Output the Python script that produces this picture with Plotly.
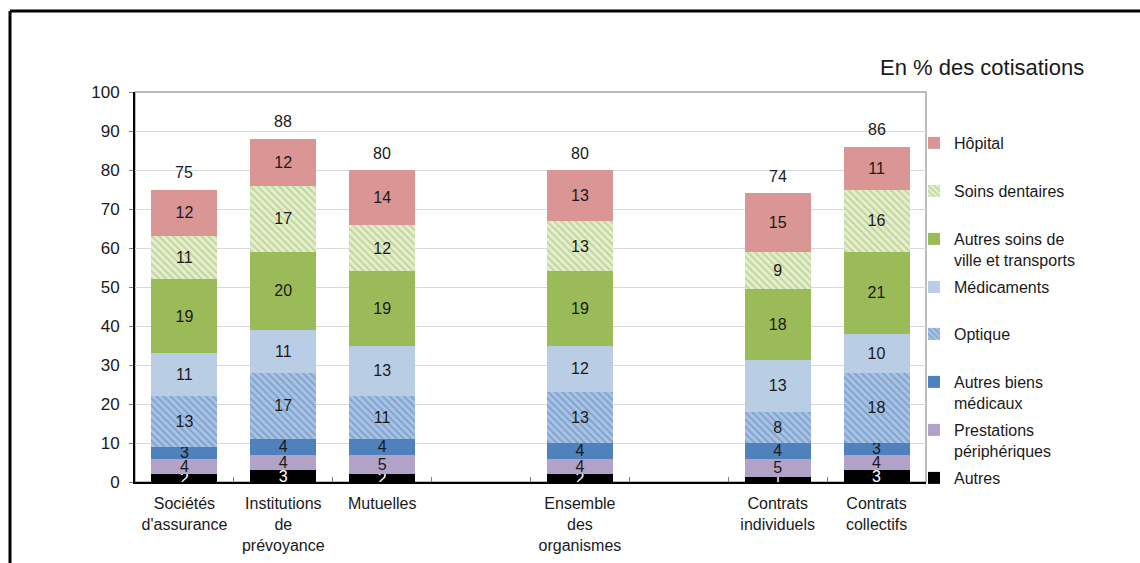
import plotly.graph_objects as go

categories = ["Sociétés<br>d'assurance", "Institutions<br>de<br>prévoyance", "Mutuelles", " ",
              "Ensemble<br>des<br>organismes", "  ", "Contrats<br>individuels", "Contrats<br>collectifs"]

autres = [2, 3, 2, None, 2, None, 1.3, 3]
prestations = [4, 4, 5, None, 4, None, 4.6, 4]
biens_medicaux = [3, 4, 4, None, 4, None, 4.1, 3]
optique = [13, 17, 11, None, 13, None, 8.0, 18]
medicaments = [11, 11, 13, None, 12, None, 13.3, 10]
soins_ville = [19, 20, 19, None, 19, None, 18.2, 21]
soins_dentaires = [11, 17, 12, None, 13, None, 9.4, 16]
hopital = [12, 12, 14, None, 13, None, 15.2, 11]
totals = [75, 88, 80, None, 80, None, 74, 86]

series = [
    ("Autres", autres, dict(color="#000000"), "white"),
    ("Prestations<br>périphériques", prestations, dict(color="#B3A2C7"), "#1a1a1a"),
    ("Autres biens<br>médicaux", biens_medicaux, dict(color="#4F81BD"), "#1a1a1a"),
    ("Optique", optique, dict(color="#95B3D7",
                             pattern=dict(shape="\\", bgcolor="#A9C2E2", fgcolor="#4F81BD",
                                          size=5, solidity=0.35)), "#1a1a1a"),
    ("Médicaments", medicaments, dict(color="#B9CDE5"), "#1a1a1a"),
    ("Autres soins de<br>ville et transports", soins_ville, dict(color="#9BBB59"), "#1a1a1a"),
    ("Soins dentaires", soins_dentaires, dict(color="#C3D69B",
                                              pattern=dict(shape="\\", bgcolor="#E4EDCF", fgcolor="#9BBB59",
                                                           size=5, solidity=0.35)), "#1a1a1a"),
    ("Hôpital", hopital, dict(color="#D99694"), "#1a1a1a"),
]

# legend first-line centre positions (pixels from top) for each series, bottom->top order
legend_px = [478, 430, 382, 334, 287, 239, 191, 143]

PLOT_TOP, PLOT_BOTTOM, PLOT_LEFT, PLOT_RIGHT = 92, 482, 135, 926
H = PLOT_BOTTOM - PLOT_TOP
W = PLOT_RIGHT - PLOT_LEFT

fig = go.Figure()
layout_legends = {}
for i, (name, vals, marker, tcol) in enumerate(series):
    key = "legend" if i == 0 else f"legend{i + 1}"
    fig.add_trace(go.Bar(
        x=categories, y=vals, name=name, marker=dict(line=dict(width=0), **marker),
        text=[("" if v is None else str(int(round(v)))) for v in vals],
        textposition="inside", insidetextanchor="middle", textangle=0,
        constraintext="none",
        textfont=dict(family="Liberation Sans, Arial", size=16, color=tcol),
        legend=key, hoverinfo="name+y",
    ))
    ypx = legend_px[i]
    layout_legends[key] = dict(
        x=(914 - PLOT_LEFT) / W, xanchor="left",
        y=(PLOT_BOTTOM - ypx + 17) / H, yanchor="top",
        bgcolor="rgba(0,0,0,0)", borderwidth=0, itemwidth=30, valign="top",
        font=dict(family="Liberation Sans, Arial", size=16, color="#1a1a1a"),
        itemclick=False, itemdoubleclick=False,
    )

fig.update_layout(
    width=1140, height=563,
    margin=dict(l=PLOT_LEFT, r=1140 - PLOT_RIGHT, t=PLOT_TOP, b=563 - PLOT_BOTTOM,
                autoexpand=False),
    barmode="stack", bargap=0.333,
    plot_bgcolor="white", paper_bgcolor="white",
    font=dict(family="Liberation Sans, Arial", size=16, color="#1a1a1a"),
    xaxis=dict(type="category", categoryorder="array", categoryarray=categories,
               showline=True, linecolor="black", linewidth=2, showgrid=False,
               ticks="inside", tickson="boundaries", ticklen=5, tickcolor="#808080",
               tickfont=dict(size=16), ticklabelstandoff=6, automargin=False),
    yaxis=dict(range=[0, 100], dtick=10, showgrid=True, gridcolor="#D9D9D9", gridwidth=1,
               showline=True, linecolor="black", linewidth=2, zeroline=False,
               ticks="outside", ticklen=4, tickcolor="#808080",
               tickfont=dict(size=17), ticklabelstandoff=6, automargin=False),
    showlegend=True,
    **layout_legends,
)

# totals above each bar
for c, t, top in zip(categories, totals, [sum(v) if None not in v else None for v in zip(
        autres, prestations, biens_medicaux, optique, medicaments, soins_ville, soins_dentaires, hopital)]):
    if t is not None:
        fig.add_annotation(x=c, y=top, text=str(t), showarrow=False, yanchor="middle",
                           yshift=17, font=dict(family="Liberation Sans, Arial", size=16,
                                                color="#1a1a1a"))

# plot-area border (top and right, grey)
fig.add_shape(type="rect", xref="paper", yref="paper", x0=0, x1=1, y0=0, y1=1,
              line=dict(color="#A6A6A6", width=1.5), layer="below")
# outer frame (top and left, black)
fx = (10 - PLOT_LEFT) / W
fy = (PLOT_BOTTOM - 11) / H
fig.add_shape(type="line", xref="paper", yref="paper", x0=fx, x1=fx, y0=-0.5, y1=fy,
              line=dict(color="black", width=3))
fig.add_shape(type="line", xref="paper", yref="paper", x0=fx, x1=1.5, y0=fy, y1=fy,
              line=dict(color="black", width=3))

fig.add_annotation(text="En % des cotisations", xref="paper", yref="paper",
                   x=(1086 - PLOT_LEFT) / W, xanchor="right",
                   y=(PLOT_BOTTOM - 67) / H, yanchor="middle", showarrow=False,
                   font=dict(family="Liberation Sans, Arial", size=22, color="#1a1a1a"))

fig.write_html("out.html")
